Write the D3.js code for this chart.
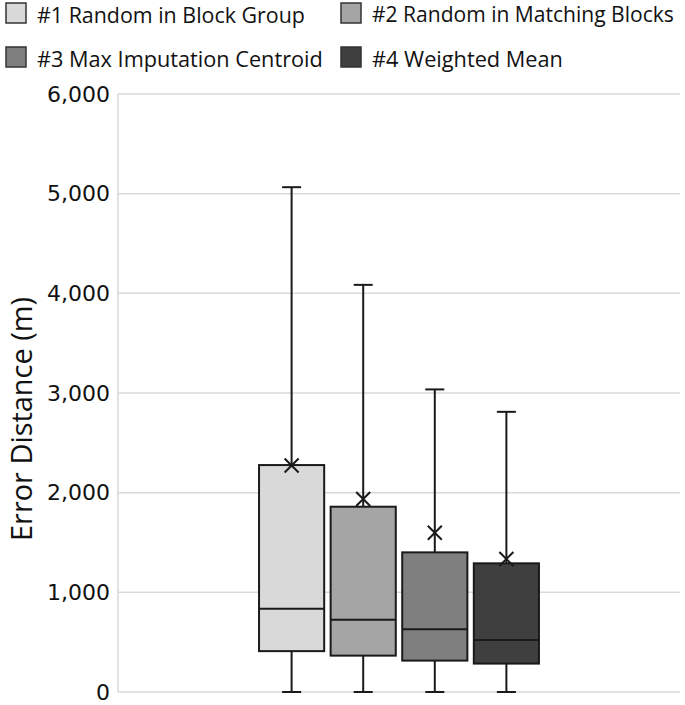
<!DOCTYPE html>
<html>
<head>
<meta charset="utf-8">
<script src="https://cdn.jsdelivr.net/npm/d3@7"></script>
<style>
  body { margin: 0; background: #fff; }
  svg { display: block; }
</style>
</head>
<body>
<svg id="chart" width="685" height="705"></svg>
<script>
// box plot of error distance for four methods

const series = ["#1 Random in Block Group", "#2 Random in Matching Blocks", "#3 Max Imputation Centroid", "#4 Weighted Mean"];
const whiskerLow = [0, 0, 0, 0];
const q1 = [410, 365, 315, 285];
const median = [835, 725, 630, 522];
const q3 = [2277, 1859, 1401, 1291];
const whiskerHigh = [5065, 4085, 3036, 2811];
const means = [2272, 1936, 1598, 1334];
const yTicks = [0, 1000, 2000, 3000, 4000, 5000, 6000];
const fills = ["#d9d9d9", "#a5a5a5", "#7f7f7f", "#3f3f3f"];

const boxes = series.map((s, i) => ({
  name: s, lo: whiskerLow[i], q1: q1[i], med: median[i], q3: q3[i], hi: whiskerHigh[i], mean: means[i], fill: fills[i]
}));

const svg = d3.select("#chart");
const plot = { left: 118, right: 680, top: 94, bottom: 692 };

const y = d3.scaleLinear().domain([0, 6000]).range([plot.bottom, plot.top]);
const x = d3.scaleBand().domain(series).range([plot.left, plot.right])
  .paddingInner(0.09).paddingOuter(1.97);

// gridlines
svg.append("g")
  .selectAll("line")
  .data(yTicks)
  .join("line")
  .attr("x1", plot.left).attr("x2", plot.right)
  .attr("y1", d => y(d)).attr("y2", d => y(d))
  .attr("stroke", "#d9d9d9").attr("stroke-width", 1.5);

svg.append("line")
  .attr("x1", plot.left).attr("x2", plot.left)
  .attr("y1", plot.top).attr("y2", plot.bottom)
  .attr("stroke", "#d9d9d9").attr("stroke-width", 1.5);

// y axis labels
const yAxis = svg.append("g")
  .attr("transform", `translate(${plot.left},0)`)
  .call(d3.axisLeft(y).tickValues(yTicks).tickFormat(d3.format(",")).tickSize(0).tickPadding(8));
yAxis.select(".domain").remove();
yAxis.selectAll("text")
  .attr("font-family", "DejaVu Sans, sans-serif")
  .attr("font-size", 22)
  .attr("fill", "#111");

const yTitle = svg.append("text")
  .attr("transform", `translate(24,419) rotate(-90)`)
  .attr("text-anchor", "middle")
  .attr("dominant-baseline", "middle")
  .attr("font-family", "Open Sans, sans-serif")
  .attr("font-size", 27)
  .attr("fill", "#111")
  .text("Error Distance (m)");
// scale font so the title spans about 244px
yTitle.attr("font-size", 27 * 244 / yTitle.node().getComputedTextLength());

// boxes
const stroke = "#1a1a1a";
const sw = 2;
const g = svg.append("g").selectAll("g").data(boxes).join("g");
const cx = d => x(d.name) + x.bandwidth() / 2;
const cap = 19;

g.append("line")
  .attr("x1", cx).attr("x2", cx)
  .attr("y1", d => y(d.hi)).attr("y2", d => y(d.lo))
  .attr("stroke", stroke).attr("stroke-width", sw);

g.selectAll(".cap")
  .data(d => [d.hi, d.lo].map(v => ({ v, c: cx(d) })))
  .join("line")
  .attr("x1", d => d.c - cap / 2).attr("x2", d => d.c + cap / 2)
  .attr("y1", d => y(d.v)).attr("y2", d => y(d.v))
  .attr("stroke", stroke).attr("stroke-width", sw);

g.append("rect")
  .attr("x", d => x(d.name))
  .attr("width", x.bandwidth())
  .attr("y", d => y(d.q3))
  .attr("height", d => y(d.q1) - y(d.q3))
  .attr("fill", d => d.fill)
  .attr("stroke", stroke).attr("stroke-width", sw);

g.append("line")
  .attr("x1", d => x(d.name)).attr("x2", d => x(d.name) + x.bandwidth())
  .attr("y1", d => y(d.med)).attr("y2", d => y(d.med))
  .attr("stroke", stroke).attr("stroke-width", sw);

// mean markers
const m = 7;
g.append("path")
  .attr("d", d => {
    const px = cx(d), py = y(d.mean);
    return `M${px - m},${py - m}L${px + m},${py + m}M${px - m},${py + m}L${px + m},${py - m}`;
  })
  .attr("stroke", stroke).attr("stroke-width", 2).attr("fill", "none");

// legend
const legendPos = [[6, 13], [341, 13], [6, 57], [341, 57]];
const legendW = [268, 302, 286, 191];
const lg = svg.append("g").selectAll("g").data(boxes).join("g")
  .attr("transform", (d, i) => `translate(${legendPos[i][0]},${legendPos[i][1]})`);
lg.append("rect")
  .attr("x", 0).attr("y", -10).attr("width", 20).attr("height", 20)
  .attr("fill", d => d.fill).attr("stroke", "#333").attr("stroke-width", 1.5);
lg.append("text")
  .attr("x", 31).attr("y", 1)
  .attr("dominant-baseline", "central")
  .attr("font-family", "Open Sans, sans-serif")
  .attr("font-size", 22)
  .attr("fill", "#111")
  .text(d => d.name)
  .each(function (d, i) {
    const w = this.getComputedTextLength();
    d3.select(this).attr("font-size", Math.min(22.5, 22 * legendW[i] / w));
  });
</script>
</body>
</html>
